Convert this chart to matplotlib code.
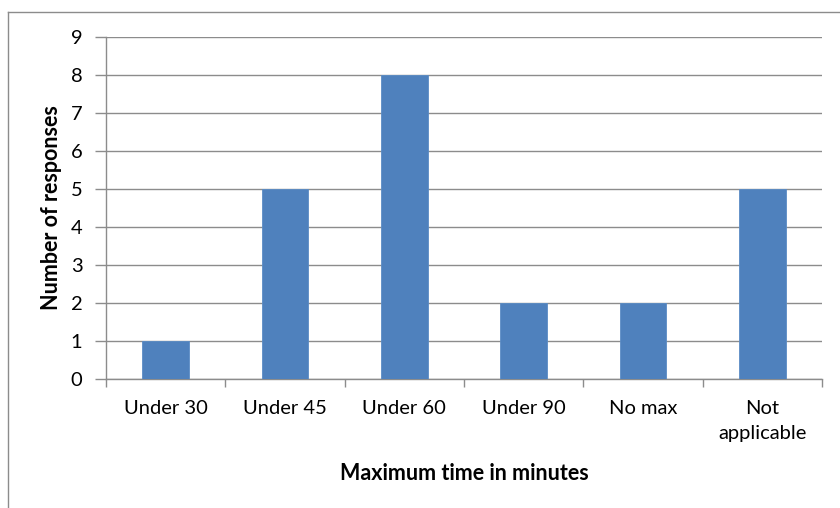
import matplotlib.pyplot as plt
import numpy as np
from matplotlib.lines import Line2D

categories = ["Under 30", "Under 45", "Under 60", "Under 90", "No max", "Not\napplicable"]
responses = [1, 5, 8, 2, 2, 5]

plt.rcParams['font.family'] = ['Lato', 'DejaVu Sans']

fig = plt.figure(figsize=(8.4, 5.08), dpi=100)
ax = fig.add_axes([106/840, 1-379/508, (822-106)/840, (379-37)/508])

x = np.arange(len(categories))
ax.bar(x, responses, width=0.39, color='#4F81BD', edgecolor='#5B8CC6', linewidth=0.6, zorder=3)

ax.set_xlim(-0.5, len(categories) - 0.5)
ax.set_ylim(0, 9)
ax.set_yticks(range(0, 10))
ax.yaxis.grid(True, color='#8C8C8C', linewidth=1.0, zorder=0)

ax.set_xticks(x)
ax.set_xticklabels(categories, fontsize=14.5, linespacing=1.6)
ax.set_xticks(np.arange(-0.5, len(categories)), minor=True)
ax.tick_params(axis='x', which='major', length=0, pad=15)
ax.tick_params(axis='x', which='minor', length=6, color='#8C8C8C', width=1.0)
ax.tick_params(axis='y', length=8, color='#8C8C8C', width=1.0, pad=9, labelsize=14.5)

for s in ['top', 'right']:
    ax.spines[s].set_visible(False)
for s in ['left', 'bottom']:
    ax.spines[s].set_color('#8C8C8C')
    ax.spines[s].set_linewidth(1.0)

ax.set_ylabel("Number of responses", fontsize=15.5, fontweight='bold', labelpad=6)
ax.set_xlabel("Maximum time in minutes", fontsize=15.5, fontweight='bold', labelpad=15)

# chart border (partly cut off in the original)
fig.add_artist(Line2D([8/840, 8/840], [0, 1-12/508], color='#8C8C8C', linewidth=1.0))
fig.add_artist(Line2D([8/840, 1], [1-12/508, 1-12/508], color='#8C8C8C', linewidth=1.0))

fig.savefig("out.png", dpi=100)
